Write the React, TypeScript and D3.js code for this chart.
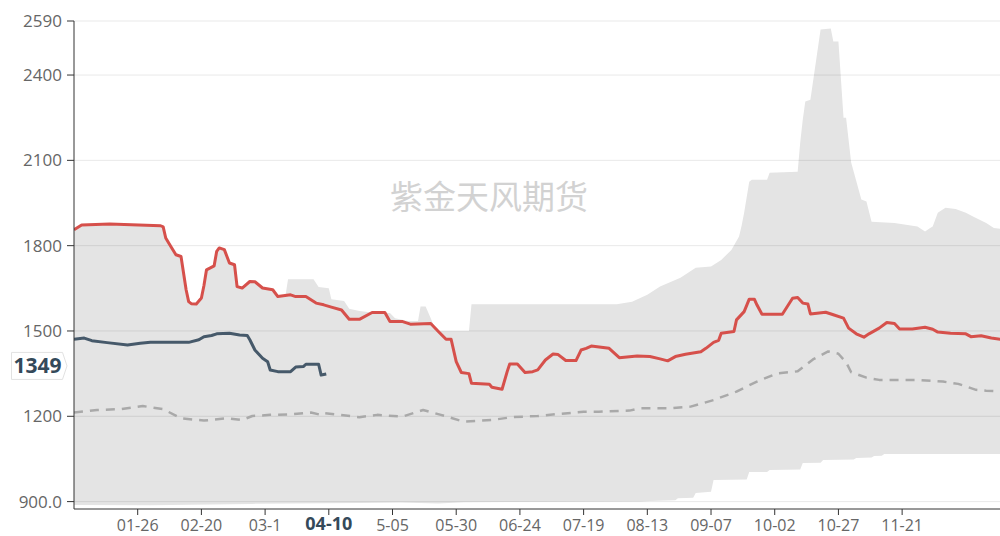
import React from "react";
import * as d3 from "d3";

// day index (0 = 01-01) and value pairs
const histMax: [number, number][] = [
  [0, 1856], [3, 1873], [14, 1876], [34, 1870], [35, 1866], [36, 1827], [38, 1797], [40, 1768],
  [42, 1762], [44, 1645], [45, 1603], [48, 1595], [50, 1616], [52, 1715], [55, 1729], [56, 1780],
  [57, 1792], [59, 1786], [61, 1739], [63, 1733], [64, 1656], [66, 1651], [69, 1674], [71, 1673],
  [74, 1651], [78, 1645], [80, 1621], [83, 1625], [84, 1682], [94, 1682], [96, 1655], [100, 1650],
  [101, 1612], [106, 1605], [108, 1578], [112, 1570], [117, 1565], [124, 1563], [126, 1545],
  [131, 1535], [135, 1535], [136, 1586], [138, 1586], [140, 1545], [142, 1500], [155, 1500],
  [156, 1594], [213, 1594], [219, 1603], [225, 1627], [230, 1656], [238, 1687], [244, 1722],
  [250, 1727], [254, 1750], [258, 1785], [261, 1832], [262, 1870], [263, 1916], [265, 2025],
  [266, 2032], [272, 2032], [273, 2056], [284, 2060], [285, 2162], [286, 2243], [287, 2307],
  [289, 2313], [293, 2560], [297, 2564], [298, 2518], [300, 2518], [302, 2250], [303, 2250],
  [305, 2092], [309, 1962], [311, 1955], [313, 1884], [322, 1880], [331, 1867], [334, 1850],
  [336, 1862], [337, 1867], [339, 1916], [342, 1933], [346, 1929], [350, 1916], [353, 1902],
  [358, 1880], [361, 1862], [364, 1859],
];

const histMin: [number, number][] = [
  [0, 888], [30, 887], [70, 892], [112, 895], [128, 897], [143, 893], [153, 898], [222, 900],
  [226, 902], [236, 905], [237, 912], [243, 914], [244, 930], [250, 935], [251, 976], [264, 978],
  [265, 1004], [272, 1004], [273, 1011], [285, 1013], [286, 1036], [293, 1037], [294, 1046],
  [306, 1048], [307, 1053], [313, 1055], [314, 1060], [317, 1061], [318, 1067], [364, 1067],
];

const histAvg: [number, number][] = [
  [0, 1213], [9, 1222], [18, 1225], [27, 1236], [35, 1225], [42, 1193], [51, 1185], [60, 1193],
  [66, 1187], [70, 1201], [77, 1205], [85, 1207], [93, 1213], [97, 1205], [98, 1211], [104, 1205],
  [112, 1197], [119, 1205], [129, 1199], [137, 1222], [144, 1205], [153, 1181], [164, 1187],
  [172, 1197], [182, 1201], [190, 1208], [200, 1216], [206, 1216], [218, 1220], [222, 1228],
  [234, 1228], [242, 1234], [251, 1257], [260, 1287], [268, 1322], [276, 1351], [284, 1358],
  [290, 1400], [296, 1428], [300, 1420], [303, 1390], [305, 1355], [311, 1336], [316, 1328],
  [331, 1328], [341, 1322], [347, 1314], [354, 1293], [358, 1290], [364, 1287],
];

const lastYear: [number, number][] = [
  [0, 1856], [3, 1873], [14, 1876], [34, 1870], [35, 1866], [36, 1827], [38, 1797], [40, 1768],
  [42, 1762], [44, 1645], [45, 1603], [46, 1596], [48, 1595], [50, 1616], [51, 1660], [52, 1715],
  [55, 1729], [56, 1780], [57, 1792], [59, 1786], [61, 1739], [63, 1733], [64, 1656], [66, 1651],
  [69, 1674], [71, 1673], [74, 1651], [78, 1645], [80, 1621], [85, 1627], [87, 1621], [91, 1621],
  [95, 1598], [98, 1592], [101, 1584], [105, 1574], [108, 1541], [112, 1541], [117, 1565],
  [122, 1565], [124, 1533], [129, 1533], [132, 1524], [140, 1526], [143, 1498], [146, 1471],
  [148, 1471], [150, 1392], [152, 1354], [155, 1350], [156, 1316], [163, 1313], [164, 1302],
  [168, 1295], [170, 1357], [171, 1384], [174, 1384], [177, 1354], [180, 1357], [182, 1363],
  [185, 1398], [188, 1419], [190, 1417], [193, 1396], [197, 1396], [199, 1433], [201, 1439],
  [203, 1447], [210, 1439], [214, 1406], [221, 1412], [226, 1410], [230, 1402], [233, 1395],
  [236, 1410], [240, 1418], [246, 1427], [248, 1439], [251, 1460], [253, 1467], [254, 1492],
  [259, 1498], [260, 1539], [263, 1568], [265, 1612], [267, 1612], [268, 1592], [270, 1559],
  [278, 1559], [282, 1615], [284, 1618], [286, 1598], [288, 1595], [289, 1560], [295, 1566],
  [298, 1557], [302, 1545], [304, 1510], [307, 1490], [310, 1478], [312, 1490], [316, 1510],
  [319, 1530], [322, 1526], [324, 1507], [329, 1507], [334, 1513], [337, 1506], [339, 1496],
  [344, 1492], [350, 1490], [352, 1480], [356, 1483], [360, 1475], [364, 1470],
];

const thisYear: [number, number][] = [
  [0, 1471], [4, 1475], [7, 1466], [13, 1459], [21, 1451], [26, 1457], [30, 1460], [45, 1460],
  [49, 1469], [51, 1480], [54, 1484], [56, 1490], [61, 1492], [65, 1486], [68, 1484], [69, 1469],
  [71, 1433], [74, 1404], [76, 1392], [77, 1363], [80, 1357], [85, 1357], [87, 1373], [90, 1375],
  [91, 1383], [96, 1383], [97, 1345], [99, 1349],
];

const xTickDays = [25, 50, 75, 100, 125, 150, 175, 200, 225, 250, 275, 300, 325];
const xTickLabels = ["01-26", "02-20", "03-1", "04-10", "5-05", "05-30", "06-24", "07-19", "08-13", "09-07", "10-02", "10-27", "11-21"];
const highlightLabel = "04-10";
const yTickValues = [900, 1200, 1500, 1800, 2100, 2400, 2590];
const yTickLabels = ["900.0", "1200", "1500", "1800", "2100", "2400", "2590"];
const watermark = "紫金天风期货";

const font = "'Open Sans', 'Noto Sans', 'Noto Sans CJK SC', sans-serif";

export default function App() {
  const x = d3.scaleLinear().domain([0, 364]).range([74, 1001.5]);
  const y = d3.scaleLinear().domain([874, 2590]).range([509, 21]);

  const line = d3
    .line<[number, number]>()
    .x(d => x(d[0]))
    .y(d => y(d[1]));

  const upper = line(histMax) || "";
  const lower = line([...histMin].reverse()) || "";
  const bandPath = upper + "L" + lower.slice(1) + "Z";

  const last = thisYear[thisYear.length - 1];
  const ly = y(last[1]) - 8;

  return (
    <svg
      width={1000}
      height={536}
      style={{ position: "absolute", left: 0, top: 0, background: "#fff" }}
      fontFamily={font}
    >
      <defs>
        <clipPath id="plot">
          <rect x={74} y={0} width={930} height={509} />
        </clipPath>
      </defs>
      <g clipPath="url(#plot)">
        <path d={bandPath} fill="#e4e4e4" />
        {yTickValues.map(v => (
          <line key={v} x1={74} x2={1000} y1={y(v)} y2={y(v)} stroke="#000" strokeOpacity={0.09} />
        ))}
      </g>

      <text
        x={489}
        y={209}
        textAnchor="middle"
        fontSize={33}
        fill="#d2d2d2"
        fontFamily="'Noto Sans CJK SC', sans-serif"
      >
        {watermark}
      </text>

      <g clipPath="url(#plot)" fill="none" strokeLinejoin="round">
        <path d={line(histAvg) || ""} stroke="#a9a9a9" strokeWidth={2.5} strokeDasharray="9 7" />
        <path d={line(lastYear) || ""} stroke="#d6504b" strokeWidth={3} />
        <path d={line(thisYear) || ""} stroke="#46596a" strokeWidth={3} />
      </g>

      {/* y axis */}
      <line x1={74} x2={74} y1={21} y2={509} stroke="#333" />
      {yTickValues.map((v, i) => (
        <g key={v}>
          <line x1={67} x2={74} y1={y(v)} y2={y(v)} stroke="#333" />
          <text x={62} y={y(v)} dy="0.35em" textAnchor="end" fontSize={17} fill="#666">
            {yTickLabels[i]}
          </text>
        </g>
      ))}

      {/* x axis */}
      <line x1={74} x2={1000} y1={509} y2={509} stroke="#333" />
      {xTickDays.map((d, i) => {
        const hi = xTickLabels[i] === highlightLabel;
        return (
          <g key={d}>
            <line x1={x(d)} x2={x(d)} y1={509} y2={515} stroke="#333" />
            <text
              x={x(d)}
              y={hi ? 524 : 525.5}
              dy="0.35em"
              textAnchor="middle"
              fontSize={hi ? 18 : 16}
              fontWeight={hi ? 700 : 400}
              fill={hi ? "#34495a" : "#666"}
            >
              {xTickLabels[i]}
            </text>
          </g>
        );
      })}

      {/* current value label */}
      <path
        d={`M11.5,${ly - 13.5}H62.5L67,${ly}L62.5,${ly + 13.5}H11.5Z`}
        fill="#fff"
        stroke="#e2e2e2"
      />
      <text x={37.5} y={ly} dy="0.36em" textAnchor="middle" fontSize={21} fontWeight={700} fill="#34495a">
        {last[1]}
      </text>
    </svg>
  );
}
